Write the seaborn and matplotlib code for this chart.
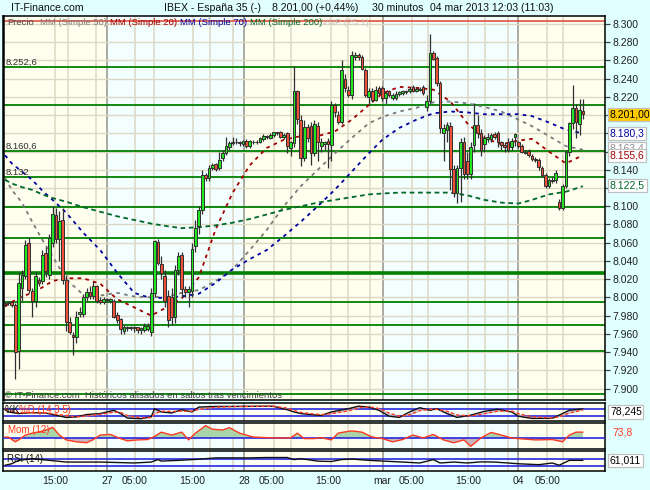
import matplotlib
matplotlib.use("Agg")
import matplotlib.pyplot as plt
import matplotlib.transforms as mtransforms
import numpy as np
import pandas as pd
import seaborn as sns

sns.set_style("white")
plt.rcParams['font.family'] = ['Liberation Sans', 'DejaVu Sans']

# ---------------- data (30-minute candles, IBEX 35) ----------------
opens = [7993, 7994, 7995, 7992, 7941, 8010, 8023, 8060, 8007, 7996,
         8019, 8018, 8049, 8025, 8060, 8090, 8064, 8085, 8019, 7973,
         7959, 7956, 7982, 7982, 8000, 8006, 8002, 8012, 7997, 7995,
         7997, 7996, 7996, 7981, 7976, 7963, 7966, 7967, 7967, 7967,
         7964, 7964, 7965, 7962, 8005, 8061, 8037, 8023, 8002, 8000,
         7978, 8030, 8047, 8009, 8006, 8007, 8056, 8078, 8096, 8134,
         8131, 8142, 8146, 8142, 8153, 8158, 8165, 8169, 8171, 8171,
         8168, 8172, 8166, 8171, 8170, 8170, 8174, 8177, 8175, 8178,
         8181, 8182, 8176, 8180, 8164, 8169, 8226, 8195, 8153, 8187,
         8188, 8159, 8188, 8166, 8168, 8172, 8167, 8211, 8200, 8193,
         8240, 8228, 8222, 8264, 8266, 8264, 8249, 8220, 8226, 8217,
         8230, 8230, 8219, 8226, 8219, 8219, 8223, 8224, 8225, 8226,
         8231, 8227, 8228, 8231, 8209, 8215, 8268, 8263, 8235, 8180,
         8184, 8188, 8141, 8115, 8142, 8171, 8150, 8135, 8167, 8189,
         8180, 8168, 8174, 8174, 8179, 8180, 8170, 8167, 8170, 8165,
         8176, 8170, 8166, 8160, 8161, 8155, 8152, 8151, 8142, 8134,
         8122, 8128, 8129, 8105, 8098, 8122, 8160, 8191, 8208, 8190,
         8205]
highs = [7995, 7996, 7996, 7994, 8027, 8030, 8063, 8066, 8010, 8028,
         8022, 8052, 8055, 8070, 8100, 8098, 8095, 8098, 8025, 7978,
         7962, 7985, 7990, 8004, 8010, 8012, 8018, 8014, 8000, 8000,
         7999, 7999, 7998, 7984, 7977, 7970, 7969, 7969, 7969, 7968,
         7967, 7972, 7972, 8010, 8063, 8064, 8045, 8030, 8008, 8010,
         8035, 8050, 8050, 8012, 8012, 8060, 8085, 8100, 8140, 8136,
         8145, 8147, 8148, 8160, 8162, 8176, 8172, 8176, 8175, 8172,
         8173, 8174, 8173, 8173, 8173, 8176, 8179, 8178, 8180, 8182,
         8182, 8183, 8180, 8182, 8172, 8254, 8228, 8200, 8195, 8190,
         8192, 8195, 8192, 8175, 8172, 8175, 8216, 8213, 8205, 8261,
         8245, 8232, 8270, 8269, 8268, 8266, 8252, 8230, 8230, 8232,
         8232, 8232, 8227, 8228, 8224, 8226, 8227, 8228, 8228, 8231,
         8233, 8231, 8231, 8233, 8222, 8289, 8270, 8265, 8238, 8190,
         8192, 8192, 8145, 8145, 8175, 8176, 8160, 8170, 8213, 8200,
         8185, 8178, 8180, 8180, 8181, 8183, 8172, 8170, 8175, 8175,
         8180, 8172, 8168, 8162, 8163, 8157, 8154, 8153, 8144, 8136,
         8131, 8132, 8140, 8108, 8124, 8162, 8193, 8233, 8212, 8218,
         8218]
lows = [7991, 7992, 7990, 7910, 7921, 7996, 8020, 8005, 7978, 7990,
        8012, 8015, 8022, 8020, 8055, 8060, 8040, 8015, 7963, 7960,
        7937, 7950, 7978, 7978, 7996, 7998, 7998, 7994, 7993, 7993,
        7995, 7994, 7977, 7972, 7960, 7960, 7963, 7964, 7962, 7961,
        7960, 7962, 7963, 7958, 8000, 8035, 8020, 7990, 7967, 7970,
        7972, 8025, 8000, 8000, 7990, 8000, 8050, 8070, 8092, 8128,
        8128, 8140, 8139, 8140, 8150, 8156, 8162, 8167, 8168, 8166,
        8166, 8164, 8164, 8168, 8168, 8169, 8172, 8174, 8174, 8176,
        8178, 8175, 8174, 8158, 8155, 8165, 8190, 8144, 8150, 8170,
        8145, 8155, 8150, 8160, 8162, 8142, 8150, 8198, 8190, 8190,
        8225, 8220, 8218, 8260, 8260, 8250, 8220, 8212, 8214, 8215,
        8222, 8215, 8212, 8220, 8217, 8217, 8221, 8222, 8223, 8224,
        8225, 8225, 8226, 8222, 8205, 8212, 8260, 8232, 8180, 8150,
        8170, 8118, 8110, 8104, 8105, 8130, 8130, 8130, 8160, 8175,
        8155, 8160, 8170, 8170, 8174, 8165, 8162, 8160, 8160, 8162,
        8166, 8164, 8158, 8157, 8154, 8150, 8149, 8140, 8132, 8120,
        8120, 8126, 8126, 8096, 8096, 8120, 8155, 8185, 8175, 8178,
        8196]
closes = [7994, 7995, 7992, 7940, 8016, 8025, 8058, 8008, 7996, 8023,
          8016, 8047, 8029, 8065, 8092, 8064, 8084, 8019, 7973, 7962,
          7956, 7978, 7984, 8000, 8006, 8002, 8013, 7996, 7995, 7998,
          7998, 7998, 7979, 7975, 7965, 7967, 7967, 7966, 7966, 7964,
          7966, 7969, 7969, 8005, 8062, 8038, 8027, 7996, 7975, 7978,
          8030, 8045, 8009, 8006, 8009, 8053, 8076, 8096, 8134, 8131,
          8142, 8145, 8141, 8151, 8158, 8166, 8169, 8171, 8170, 8169,
          8172, 8166, 8172, 8170, 8171, 8175, 8177, 8176, 8178, 8181,
          8180, 8176, 8178, 8166, 8170, 8226, 8196, 8153, 8187, 8175,
          8159, 8190, 8170, 8170, 8170, 8168, 8211, 8203, 8193, 8250,
          8230, 8222, 8266, 8266, 8264, 8251, 8222, 8226, 8217, 8228,
          8224, 8219, 8224, 8222, 8222, 8223, 8225, 8226, 8227, 8229,
          8227, 8229, 8229, 8224, 8215, 8268, 8262, 8235, 8186, 8186,
          8189, 8141, 8115, 8142, 8171, 8135, 8135, 8165, 8189, 8180,
          8162, 8175, 8176, 8178, 8176, 8170, 8167, 8165, 8162, 8172,
          8179, 8166, 8160, 8159, 8156, 8152, 8151, 8143, 8134, 8122,
          8129, 8129, 8136, 8098, 8122, 8160, 8191, 8208, 8193, 8206,
          8201]

# moving averages read at sampled candle positions
ma_idx = [0, 2, 5, 8, 11, 14, 18, 23, 28, 33, 38, 43, 48, 52, 57, 62, 67, 72, 77,
          82, 87, 92, 97, 102, 107, 111, 116, 121, 126, 131, 136, 141, 146, 151,
          155, 160, 165, 170]
mm50 = [8131, 8118, 8104, 8083, 8063, 8045, 8020, 8003, 8002, 8005, 8001, 8000,
        8001, 8005, 8008, 8018, 8031, 8052, 8074, 8100, 8122, 8140, 8158, 8175,
        8191, 8198, 8204, 8208, 8214, 8215, 8213, 8209, 8204, 8195, 8188, 8177,
        8166, 8162]
mm20 = [7990, 7995, 8001, 8005, 8011, 8018, 8021, 8021, 8015, 7998, 7989, 7980,
        7990, 7999, 8022, 8075, 8115, 8145, 8164, 8173, 8177, 8177, 8182, 8195,
        8211, 8224, 8231, 8230, 8228, 8215, 8191, 8175, 8168, 8172, 8174, 8160,
        8147, 8156]
mm70 = [8156, 8147, 8138, 8129, 8117, 8107, 8093, 8071, 8052, 8027, 8005, 7999,
        8000, 8001, 8004, 8016, 8031, 8042, 8052, 8067, 8083, 8100, 8118, 8138,
        8158, 8173, 8186, 8195, 8202, 8204, 8203, 8201, 8201, 8201, 8199, 8192,
        8184, 8180]
mm200 = [8129, 8125, 8121, 8118, 8113, 8109, 8105, 8099, 8094, 8089, 8085, 8081,
         8078, 8076, 8077, 8079, 8082, 8086, 8091, 8096, 8100, 8104, 8107, 8110,
         8113, 8114, 8115, 8115, 8115, 8115, 8112, 8107, 8104, 8103, 8107, 8113,
         8116, 8122]

# horizontal support / resistance levels
green_levels = [8252.6, 8211.0, 8160.6, 8132.0, 8099.2, 8065.3, 7995.2, 7970.0,
                7941.5, 7894.5]
thick_level = 8027.2
red_level = 8303.3

# stochastic %K %D (14 3 5)
st_idx = [0, 1, 4, 8, 12, 18, 21, 24, 28, 32, 34, 36, 40, 43, 44, 46, 49, 52, 55,
          57, 62, 67, 77, 79, 83, 85, 87, 90, 93, 96, 101, 104, 107, 110, 113, 116,
          119, 122, 125, 127, 130, 133, 137, 141, 145, 149, 151, 155, 161, 163, 166,
          170]
st_k = [72, 54, 41, 49, 45, 10, 15, 33, 41, 67, 41, 5, 0, 15, 80, 54, 46, 72, 54,
        93, 98, 98, 100, 99, 72, 54, 41, 33, 25, 54, 80, 100, 93, 67, 20, 10, 54,
        88, 67, 80, 41, 10, 28, 59, 75, 54, 20, 2, 3, 28, 67, 78.245]
st_d = [80, 65, 48, 46, 46, 25, 14, 22, 35, 52, 50, 25, 8, 8, 40, 60, 58, 60, 60,
        75, 92, 97, 99, 99, 85, 65, 50, 40, 32, 40, 62, 88, 95, 82, 45, 20, 30, 65,
        75, 75, 60, 30, 22, 40, 60, 62, 40, 15, 5, 15, 45, 70]

# momentum (12)
mom_idx = [0, 1, 3, 4, 6, 8, 11, 13, 14, 16, 18, 21, 24, 26, 28, 31, 34, 36, 39,
           42, 44, 46, 49, 52, 54, 56, 59, 61, 64, 66, 69, 73, 77, 80, 84, 86, 88,
           91, 93, 96, 98, 99, 102, 105, 108, 111, 114, 117, 120, 123, 126, 129,
           132, 135, 137, 140, 143, 146, 149, 151, 156, 161, 164, 166, 168, 170]
mom = [12, 10, -49, -25, 37, 61, 86, 115, 135, 37, -25, -49, -61, -20, 37, 45, -8,
       -37, -25, -20, 20, 74, 37, 74, -25, 61, 156, 111, 102, 131, 61, 12, 4, 0, 0,
       61, -8, -8, 4, -25, 61, 70, 90, 74, 12, -8, -49, -20, 37, 0, 45, -25, -61,
       -25, -107, 0, 70, 37, 0, -8, -25, -20, -49, 37, 74, 73.8]

# RSI (14)
rsi_idx = [0, 2, 4, 8, 13, 18, 28, 38, 43, 45, 46, 51, 57, 62, 72, 77, 83, 85, 87,
           92, 96, 99, 102, 107, 117, 122, 126, 128, 132, 136, 140, 144, 151, 157,
           161, 163, 166, 170]
rsi = [35, 43, 61, 70, 61, 52, 52, 47, 52, 65, 57, 61, 67, 74, 74, 76, 76, 65, 70,
       57, 55, 65, 68, 61, 52, 47, 65, 47, 52, 47, 53, 52, 43, 38, 47, 35, 61,
       61.011]

# axis labels (labels hidden behind the value boxes are left blank, as in the source)
price_ticks = [7900, 7920, 7940, 7960, 7980, 8000, 8020, 8040, 8060, 8080, 8100,
               8120, 8140, 8160, 8180, 8200, 8220, 8240, 8260, 8280, 8300]
price_labels = ["7.900", "7.920", "7.940", "7.960", "7.980", "8.000", "8.020",
                "8.040", "8.060", "8.080", "8.100", "", "8.140", "",
                "", "", "8.220", "8.240", "8.260", "8.280", "8.300"]
time_pos = [14.7, 30.0, 38.2, 55.0, 70.3, 78.5, 95.0, 110.9, 119.7, 136.2, 150.9, 159.7]
time_labels = ["15:00", "27", "05:00", "15:00", "28", "05:00", "15:00", "mar",
               "05:00", "15:00", "04", "05:00"]
day_bounds = [30.0, 70.3, 111.2, 150.9]
grid_pos = [14.7, 18.5, 26.8, 38.2, 43.8, 55.3, 60.3, 67.1, 79.1, 84.1, 95.9,
            100.9, 107.4, 119.7, 124.4, 136.2, 141.2, 148.0, 159.4, 164.1]

# ---------------- figure ----------------
W, H = 650, 490
BG = '#e0ffff'
fig = plt.figure(figsize=(W / 100, H / 100), dpi=100, facecolor=BG)


def px_axes(top, bottom, left=3, right=605):
    return fig.add_axes([left / W, 1 - bottom / H, (right - left) / W, (bottom - top) / H])


ax = px_axes(16, 400)
ax_st = px_axes(403.2, 420.8)
ax_mo = px_axes(423.4, 448.6)
ax_rs = px_axes(451.2, 470.8)
panels = [ax, ax_st, ax_mo, ax_rs]

XL = (-0.59, 176.5)
YEL, CYA = '#fffff0', '#f3feff'
for a in panels:
    a.set_xlim(*XL)
    a.set_facecolor(YEL)
    edges = [XL[0]] + day_bounds + [XL[1]]
    for k in range(len(edges) - 1):
        a.axvspan(edges[k], edges[k + 1], color=(YEL if k % 2 == 0 else CYA), lw=0, zorder=0)
    for g in grid_pos:
        a.axvline(g, color='#dcd8c2', lw=1.1, zorder=1)
    for d in day_bounds:
        a.axvline(d, color='#a4a49c', lw=1.3, zorder=1)
    for s in a.spines.values():
        s.set_color('black')
        s.set_linewidth(1.1)
        s.set_visible(True)
    a.set_xticks([])
    a.set_yticks([])
    a.set_xlabel('')
    a.set_ylabel('')
ax.spines['left'].set_linewidth(1.8)

# ---- main price panel ----
ax.set_ylim(7887.4, 8308.8)
for t in price_ticks:
    ax.axhline(t, color='#dcd8c2', lw=1.0, zorder=1)
for lv in green_levels:
    ax.axhline(lv, color='#008000', lw=1.3, zorder=2)
ax.axhline(thick_level, color='#008000', lw=2.6, zorder=2)
ax.axhline(red_level, color='#e05040', lw=1.2, zorder=2)

ma_df = pd.DataFrame({
    'idx': ma_idx * 4,
    'value': mm50 + mm20 + mm70 + mm200,
    'serie': ['MM50'] * len(ma_idx) + ['MM20'] * len(ma_idx) + ['MM70'] * len(ma_idx) + ['MM200'] * len(ma_idx),
})
pal = {'MM50': '#7a7a7a', 'MM20': '#a00000', 'MM70': '#0000a0', 'MM200': '#006828'}
dsh = {'MM50': (2.0, 2.4), 'MM20': (2.0, 2.4), 'MM70': (2.0, 2.4), 'MM200': (2.6, 2.0)}
sns.lineplot(data=ma_df, x='idx', y='value', hue='serie', style='serie', palette=pal,
             dashes=dsh, lw=1.3, ax=ax, legend=False, zorder=3)

idx = np.arange(len(closes))
o = np.array(opens, float)
c = np.array(closes, float)
hi = np.array(highs, float)
lo = np.array(lows, float)
up = c >= o
ax.vlines(idx, lo, hi, color='#303030', lw=0.9, zorder=4)
bb = np.minimum(o, c)
bh = np.maximum(np.abs(c - o), 1.0)
ax.bar(idx[up], bh[up], bottom=bb[up], width=0.8, color='#22e622', edgecolor='#303030', lw=0.7, zorder=5)
ax.bar(idx[~up], bh[~up], bottom=bb[~up], width=0.8, color='#f0503a', edgecolor='#303030', lw=0.7, zorder=5)
ax.set_xlim(*XL)
ax.set_ylim(7887.4, 8308.8)
ax.set_xlabel('')
ax.set_ylabel('')

ax.yaxis.tick_right()
ax.set_yticks(price_ticks)
ax.set_yticklabels(price_labels)
ax.tick_params(axis='y', right=True, length=3.5, width=0.9, color='#404040', pad=2,
               labelsize=7.5, labelcolor='#202020')

# value boxes on the right side
tr = mtransforms.blended_transform_factory(fig.transFigure, ax.transData)
boxes = [(8122.5, '8.122,5', '#006828', 'white'),
         (8180.3, '8.180,3', '#0000a0', 'white'),
         (8163.4, '8.163,4', '#909090', 'white'),
         (8155.6, '8.155,6', '#a00000', 'white'),
         (8201.0, '8.201,00', '#000000', '#ffcc00')]
for val, txt, col, fc in boxes:
    ax.text(610 / W, val, txt, transform=tr, color=col, fontsize=7.5, va='center', ha='left',
            clip_on=False, zorder=10,
            bbox=dict(boxstyle='square,pad=0.15', fc=fc, ec='#c0c0c0', lw=0.9))

# in-plot labels
for yv, txt in [(62.3, '8.252,6'), (146.2, '8.160,6'), (172.3, '8.132')]:
    fig.text(6 / W, 1 - yv / H, txt, fontsize=6.8, color='#303030', va='center', ha='left')

legend_parts = [(7, 'Precio', '#505050'), (39.5, 'MM (Simple 50)', '#808080'),
                (109.5, 'MM (Simple 20)', '#a00000'), (179.5, 'MM (Simple 70)', '#0000a0'),
                (249.5, 'MM (Simple 200)', '#006828'), (322, 'VNP (25 1)', '#c4c4c4')]
for xp, txt, col in legend_parts:
    fig.text(xp / W, 1 - 22.5 / H, txt, fontsize=6.8, color=col, va='center', ha='left', zorder=20)

fig.text(5 / W, 1 - 395 / H, '© IT-Finance.com  Históricos alisados en saltos tras vencimientos',
         fontsize=6.8, color='#404040', va='center', ha='left', zorder=20)

# title line
fig.text(11 / W, 1 - 8 / H, 'IT-Finance.com', fontsize=7.6, color='#101010', va='center')
for xp, txt in [(164, 'IBEX - España 35 (-)'), (272.5, '8.201,00 (+0,44%)'),
                (372, '30 minutos'), (430, '04 mar 2013 12:03 (11:03)')]:
    fig.text(xp / W, 1 - 8 / H, txt, fontsize=7.6, color='#101010', va='center')

# ---- stochastic ----
ax_st.set_ylim(-17, 124)
for lv in [80, 20]:
    ax_st.axhline(lv, color='#2828e0', lw=1.2, zorder=2)
stk = np.array(st_k, float)
std = np.array(st_d, float)
ax_st.fill_between(st_idx, stk, std, color='#c4c0d0', alpha=0.8, lw=0, zorder=2)
st_df = pd.DataFrame({'idx': st_idx * 2, 'v': st_k + st_d, 's': ['K'] * len(st_idx) + ['D'] * len(st_idx)})
sns.lineplot(data=st_df, x='idx', y='v', hue='s', style='s', palette={'K': '#101010', 'D': '#ff3a20'},
             dashes={'K': '', 'D': (2.5, 1.5)}, lw=1.0, ax=ax_st, legend=False, zorder=3)
ax_st.set_xlim(*XL)
ax_st.set_ylim(-17, 124)
ax_st.set_xlabel('')
ax_st.set_ylabel('')
fig.text(5 / W, 1 - 409.5 / H, '%K', fontsize=7, color='#101010', va='center')
fig.text(19 / W, 1 - 409.5 / H, '%D (14 3 5)', fontsize=7, color='#ff3a20', va='center')
ax_st.text(610 / W, 0.5, '78,245', transform=mtransforms.blended_transform_factory(fig.transFigure, ax_st.transAxes),
           fontsize=7.5, color='black', va='center', ha='left', clip_on=False,
           bbox=dict(boxstyle='square,pad=0.15', fc='white', ec='#c0c0c0', lw=0.9))

# ---- momentum ----
ax_mo.set_ylim(-135, 185)
mv = np.array(mom, float)
ax_mo.fill_between(mom_idx, mv, 0, where=mv >= 0, interpolate=True, color='#a8d4a8', lw=0, zorder=2)
ax_mo.fill_between(mom_idx, mv, 0, where=mv < 0, interpolate=True, color='#c8b4bc', lw=0, zorder=2)
ax_mo.axhline(0, color='#2828e0', lw=1.2, zorder=3)
sns.lineplot(x=mom_idx, y=mom, color='#ff3a20', lw=1.0, ax=ax_mo, zorder=4)
ax_mo.set_xlim(*XL)
ax_mo.set_ylim(-135, 185)
ax_mo.set_xlabel('')
ax_mo.set_ylabel('')
fig.text(8 / W, 1 - 430 / H, 'Mom (12)', fontsize=7, color='#ff3a20', va='center')
ax_mo.text(612 / W, 73.8, '73,8', transform=mtransforms.blended_transform_factory(fig.transFigure, ax_mo.transData),
           fontsize=7.5, color='#ff3a20', va='center', ha='left', clip_on=False)

# ---- RSI ----
ax_rs.set_ylim(5.6, 109.5)
for lv in [70, 30]:
    ax_rs.axhline(lv, color='#2828e0', lw=1.2, zorder=2)
sns.lineplot(x=rsi_idx, y=rsi, color='#101010', lw=1.0, ax=ax_rs, zorder=3)
ax_rs.set_xlim(*XL)
ax_rs.set_ylim(5.6, 109.5)
ax_rs.set_ylabel('')
fig.text(7 / W, 1 - 458.5 / H, 'RSI (14)', fontsize=7, color='#101010', va='center')
ax_rs.text(610 / W, 61.011, '61,011', transform=mtransforms.blended_transform_factory(fig.transFigure, ax_rs.transData),
           fontsize=7.5, color='black', va='center', ha='left', clip_on=False,
           bbox=dict(boxstyle='square,pad=0.15', fc='white', ec='#c0c0c0', lw=0.9))

ax_rs.set_xticks(time_pos)
ax_rs.set_xticklabels(time_labels)
ax_rs.tick_params(axis='x', bottom=True, length=0, pad=4, labelsize=7.5, labelcolor='#202020')
ax_rs.set_xlabel('')

fig.savefig('out.png', dpi=100, facecolor=BG)
